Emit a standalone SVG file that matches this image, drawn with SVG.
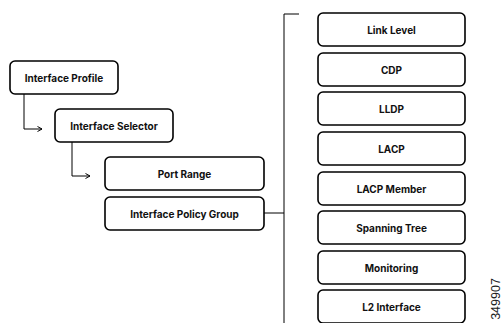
<svg xmlns="http://www.w3.org/2000/svg" width="503" height="323" viewBox="0 0 503 323">
  <style>
    .box { fill: #fff; stroke: #000; stroke-width: 1.6; }
    .lbl { font-family: Inter, "Liberation Sans", sans-serif; font-weight: 700; font-size: 10px; fill: #111; text-anchor: middle; dominant-baseline: central; }
    .wire { fill: none; stroke: #000; stroke-width: 1; }
    .fig { font-family: "Liberation Sans", Arial, sans-serif; font-size: 12.5px; fill: #222; }
  </style>
  <defs>
    <marker id="arrow" markerWidth="8" markerHeight="8" refX="6" refY="4" orient="auto" markerUnits="userSpaceOnUse">
      <path d="M1.5,1.5 L6,4 L1.5,6.5" fill="none" stroke="#000" stroke-width="1"/>
    </marker>
  </defs>

  <rect width="503" height="323" fill="#fff"/>

  <g id="connectors">
    <path class="wire" d="M24,94 V129 H42" marker-end="url(#arrow)"/>
    <path class="wire" d="M72,142 V176 H90" marker-end="url(#arrow)"/>
    <path class="wire" d="M264,213 H284"/>
    <path class="wire" d="M299,14 H284 V323"/>
  </g>

  <g id="interface-profile">
    <rect class="box" x="10" y="61" width="108" height="33" rx="5"/>
    <text class="lbl" x="64" y="77.5">Interface Profile</text>
  </g>
  <g id="interface-selector">
    <rect class="box" x="55" y="109" width="118" height="33" rx="5"/>
    <text class="lbl" x="114" y="125.5">Interface Selector</text>
  </g>
  <g id="port-range">
    <rect class="box" x="105" y="157" width="159" height="33" rx="5"/>
    <text class="lbl" x="184.5" y="173.5">Port Range</text>
  </g>
  <g id="interface-policy-group">
    <rect class="box" x="105" y="197" width="159" height="33" rx="5"/>
    <text class="lbl" x="184.5" y="213.5">Interface Policy Group</text>
  </g>

  <g id="link-level">
    <rect class="box" x="318" y="13" width="147" height="33" rx="5"/>
    <text class="lbl" x="391.5" y="29.5">Link Level</text>
  </g>
  <g id="cdp">
    <rect class="box" x="318" y="53" width="147" height="33" rx="5"/>
    <text class="lbl" x="391.5" y="69.5">CDP</text>
  </g>
  <g id="lldp">
    <rect class="box" x="318" y="92" width="147" height="33" rx="5"/>
    <text class="lbl" x="391.5" y="108.5">LLDP</text>
  </g>
  <g id="lacp">
    <rect class="box" x="318" y="132" width="147" height="33" rx="5"/>
    <text class="lbl" x="391.5" y="148.5">LACP</text>
  </g>
  <g id="lacp-member">
    <rect class="box" x="318" y="172" width="147" height="33" rx="5"/>
    <text class="lbl" x="391.5" y="188.5">LACP Member</text>
  </g>
  <g id="spanning-tree">
    <rect class="box" x="318" y="211" width="147" height="33" rx="5"/>
    <text class="lbl" x="391.5" y="227.5">Spanning Tree</text>
  </g>
  <g id="monitoring">
    <rect class="box" x="318" y="251" width="147" height="33" rx="5"/>
    <text class="lbl" x="391.5" y="267.5">Monitoring</text>
  </g>
  <g id="l2-interface">
    <rect class="box" x="318" y="290" width="147" height="33" rx="5"/>
    <text class="lbl" x="391.5" y="306.5">L2 Interface</text>
  </g>

  <text class="fig" transform="translate(500,299) rotate(-90)" text-anchor="middle">349907</text>
</svg>
